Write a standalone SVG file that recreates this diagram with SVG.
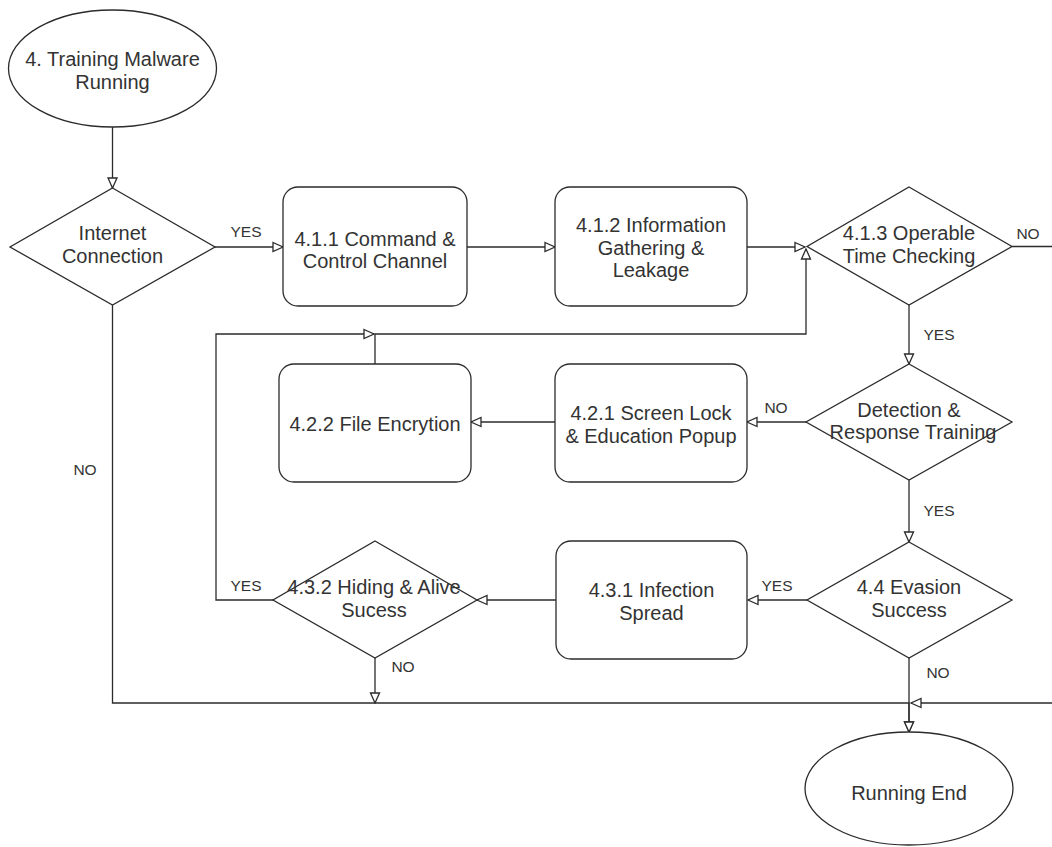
<svg xmlns="http://www.w3.org/2000/svg" width="1052" height="847" viewBox="0 0 1052 847">
<style>
.shape{fill:#ffffff;stroke:#2b2b2b;stroke-width:1.3}
.t{font-family:"Liberation Sans",Arial,sans-serif;font-size:20px;fill:#333333;text-anchor:middle}
.lbl{font-family:"Liberation Sans",Arial,sans-serif;font-size:15.5px;fill:#333333;text-anchor:middle}
.edge{fill:none;stroke:#2b2b2b;stroke-width:1.3;marker-end:url(#arr)}
</style>
<defs>
<marker id="arr" markerUnits="userSpaceOnUse" markerWidth="12" markerHeight="12" viewBox="-1 -1 12 12" refX="10" refY="5" orient="auto">
<path d="M0,0.5 L10,5 L0,9.5 Z" fill="#ffffff" stroke="#2b2b2b" stroke-width="1.3"/>
</marker>
</defs>
<rect width="1052" height="847" fill="#ffffff"/>
<g id="connectors">
<path class="edge" d="M112.5,127 L112.5,188"/>
<path class="edge" d="M215,247 L283,247"/>
<path class="edge" d="M467,247 L555,247"/>
<path class="edge" d="M747,247 L805,247"/>
<path class="edge" d="M375,364 L375,334 L806,334 L806,249"/>
<path class="edge" d="M1012,246.5 L1070,246.5 L1070,703 L911,703"/>
<path class="edge" d="M909,305 L909,364"/>
<path class="edge" d="M806,422 L747,422"/>
<path class="edge" d="M555,422 L471,422"/>
<path class="edge" d="M909,480 L909,542"/>
<path class="edge" d="M807,600 L748,600"/>
<path class="edge" d="M556,600 L477,600"/>
<path class="edge" d="M273,600 L216,600 L216,334 L374,334"/>
<path class="edge" d="M375,658 L375,703"/>
<path class="edge" d="M909,658 L909,732"/>
<path class="edge" d="M112.5,305 L112.5,703 L909,703 L909,732"/>
<text class="lbl" x="246" y="237">YES</text>
<text class="lbl" x="1028" y="239">NO</text>
<text class="lbl" x="939" y="340">YES</text>
<text class="lbl" x="776" y="413">NO</text>
<text class="lbl" x="939" y="516">YES</text>
<text class="lbl" x="777" y="591">YES</text>
<text class="lbl" x="938" y="678">NO</text>
<text class="lbl" x="246" y="591">YES</text>
<text class="lbl" x="403" y="672">NO</text>
<text class="lbl" x="85" y="475">NO</text>
</g>
<g id="start">
<ellipse class="shape" cx="112.5" cy="68.5" rx="104" ry="58.5"/>
<text class="t" x="112.5" y="66">4. Training Malware</text>
<text class="t" x="112.5" y="88.5">Running</text>
</g>
<g id="internet">
<polygon class="shape" points="112.5,188 215,247 112.5,305 10,247"/>
<text class="t" x="112.5" y="240">Internet</text>
<text class="t" x="112.5" y="263">Connection</text>
</g>
<g id="n411">
<rect class="shape" x="283" y="187" width="184" height="119" rx="15" ry="15"/>
<text class="t" x="375" y="246">4.1.1 Command &amp;</text>
<text class="t" x="375" y="268">Control Channel</text>
</g>
<g id="n412">
<rect class="shape" x="555" y="187" width="192" height="119" rx="15" ry="15"/>
<text class="t" x="651" y="232">4.1.2 Information</text>
<text class="t" x="651" y="254.5">Gathering &amp;</text>
<text class="t" x="651" y="277">Leakage</text>
</g>
<g id="n413">
<polygon class="shape" points="909,187 1012,246.5 909,305 807,246.5"/>
<text class="t" x="909" y="240">4.1.3 Operable</text>
<text class="t" x="909" y="263">Time Checking</text>
</g>
<g id="detection">
<polygon class="shape" points="909,364 1012,422 909,480 806,422"/>
<text class="t" x="909" y="417">Detection &amp;</text>
<text class="t" x="913" y="439">Response Training</text>
</g>
<g id="n421">
<rect class="shape" x="555" y="364" width="192" height="118" rx="15" ry="15"/>
<text class="t" x="651" y="420">4.2.1 Screen Lock</text>
<text class="t" x="651" y="443">&amp; Education Popup</text>
</g>
<g id="n422">
<rect class="shape" x="279" y="364" width="192" height="118" rx="15" ry="15"/>
<text class="t" x="375" y="431">4.2.2 File Encrytion</text>
</g>
<g id="evasion">
<polygon class="shape" points="909,542 1012,600 909,658 807,600"/>
<text class="t" x="909" y="594">4.4 Evasion</text>
<text class="t" x="909" y="617">Success</text>
</g>
<g id="n431">
<rect class="shape" x="556" y="541" width="191" height="118" rx="15" ry="15"/>
<text class="t" x="651.5" y="597">4.3.1 Infection</text>
<text class="t" x="651.5" y="620">Spread</text>
</g>
<g id="n432">
<polygon class="shape" points="375,541 477,600 375,658 273,600"/>
<text class="t" x="374" y="594">4.3.2 Hiding &amp; Alive</text>
<text class="t" x="374" y="617">Sucess</text>
</g>
<g id="end">
<ellipse class="shape" cx="909" cy="788.5" rx="104" ry="56.5"/>
<text class="t" x="909" y="800">Running End</text>
</g>
</svg>
